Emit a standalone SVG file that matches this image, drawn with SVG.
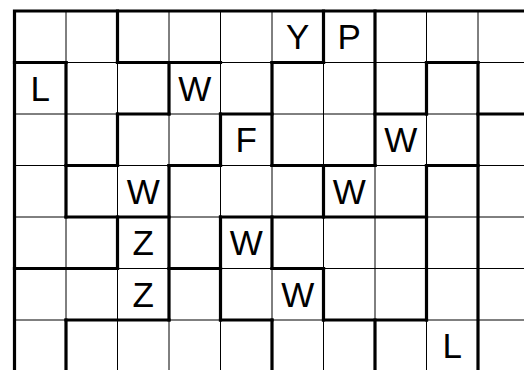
<svg xmlns="http://www.w3.org/2000/svg" width="524" height="370" viewBox="0 0 524 370">
<style>
.thin{stroke:#000;stroke-width:1;fill:none}
.bold{stroke:#000;stroke-width:3.2;fill:none;stroke-linecap:square}
.t{font-family:"Liberation Sans",Arial,sans-serif;font-size:35px;fill:#000;text-anchor:middle}
</style>
<rect x="0" y="0" width="524" height="370" fill="#fff"/>
<g id="grid-thin" class="thin">
<path d="M66 11V370M117.5 11V370M169 11V370M220.5 11V370M272 11V370M323.5 11V370M375 11V370M426.5 11V370M478 11V370"/>
<path d="M14.5 62.5H524M14.5 114H524M14.5 165.5H524M14.5 217H524M14.5 268.5H524M14.5 320H524"/>
</g>
<g id="connectors" class="bold">
<path d="M14.5 11H524M14.5 11V372"/>
<path d="M66 62.5V217M66 320V372"/>
<path d="M117.5 11V62.5M117.5 114V165.5M117.5 217V268.5"/>
<path d="M169 62.5V114M169 165.5V320"/>
<path d="M220.5 114V165.5M220.5 217V320"/>
<path d="M272 62.5V165.5M272 217V268.5M272 320V372"/>
<path d="M323.5 11V62.5M323.5 165.5V217M323.5 268.5V320"/>
<path d="M375 11V165.5M375 320V372"/>
<path d="M426.5 62.5V114M426.5 165.5V320"/>
<path d="M478 62.5V372"/>
<path d="M14.5 62.5H66M117.5 62.5H220.5M272 62.5H323.5M426.5 62.5H478"/>
<path d="M117.5 114H169M220.5 114H272M375 114H426.5M478 114H526"/>
<path d="M66 165.5H117.5M169 165.5H220.5M272 165.5H375M426.5 165.5H478"/>
<path d="M66 217H169M220.5 217H426.5"/>
<path d="M14.5 268.5H117.5M169 268.5H220.5M272 268.5H323.5"/>
<path d="M66 320H169M220.5 320H272M323.5 320H426.5"/>
</g>
<g id="labels">
<g id="n-r0c5"><text class="t" x="297.75" y="49.25">Y</text></g>
<g id="n-r0c6"><text class="t" x="349.25" y="49.25">P</text></g>
<g id="n-r1c0"><text class="t" x="40.25" y="100.75">L</text></g>
<g id="n-r1c3"><text class="t" x="194.75" y="100.75">W</text></g>
<g id="n-r2c4"><text class="t" x="246.25" y="152.25">F</text></g>
<g id="n-r2c7"><text class="t" x="400.75" y="152.25">W</text></g>
<g id="n-r3c2"><text class="t" x="143.25" y="203.75">W</text></g>
<g id="n-r3c6"><text class="t" x="349.25" y="203.75">W</text></g>
<g id="n-r4c2"><text class="t" x="143.25" y="255.25">Z</text></g>
<g id="n-r4c4"><text class="t" x="246.25" y="255.25">W</text></g>
<g id="n-r5c2"><text class="t" x="143.25" y="306.75">Z</text></g>
<g id="n-r5c5"><text class="t" x="297.75" y="306.75">W</text></g>
<g id="n-r6c8"><text class="t" x="452.25" y="358.25">L</text></g>
</g>
</svg>
